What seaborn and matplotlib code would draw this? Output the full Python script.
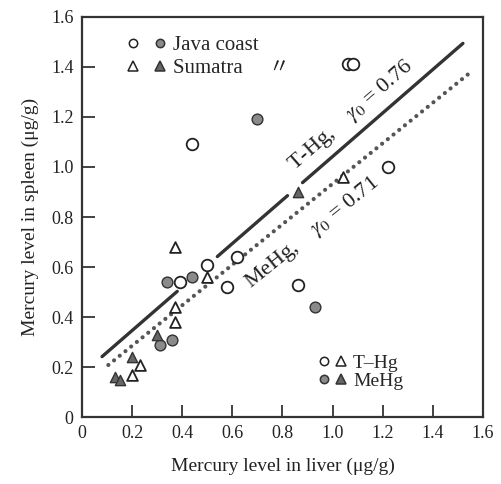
import numpy as np
import pandas as pd
import matplotlib
matplotlib.use("Agg")
import matplotlib.pyplot as plt
from matplotlib.lines import Line2D
from matplotlib.legend_handler import HandlerTuple
import seaborn as sns

# ── data ──
java_thg_liver = [0.44, 1.06, 1.08, 1.22, 0.86, 0.62, 0.50, 0.58, 0.39]
java_thg_spleen = [1.09, 1.41, 1.41, 1.00, 0.53, 0.64, 0.61, 0.52, 0.54]
java_mehg_liver = [0.70, 0.93, 0.44, 0.34, 0.31, 0.36]
java_mehg_spleen = [1.19, 0.44, 0.56, 0.54, 0.29, 0.31]
sum_thg_liver = [0.37, 0.50, 1.04, 0.37, 0.37, 0.23, 0.20]
sum_thg_spleen = [0.68, 0.56, 0.96, 0.44, 0.38, 0.21, 0.17]
sum_mehg_liver = [0.86, 0.30, 0.20, 0.13, 0.15]
sum_mehg_spleen = [0.90, 0.33, 0.24, 0.16, 0.15]

# regression lines (slope, intercept) and drawn x ranges
thg_fit = (0.870, 0.172)
thg_segments = [(0.08, 0.38), (0.54, 0.82), (0.88, 1.52)]
mehg_fit = (0.810, 0.123)
mehg_range = (0.105, 1.55)

ticks = [0, 0.2, 0.4, 0.6, 0.8, 1.0, 1.2, 1.4, 1.6]
tick_labels = ["0", "0.2", "0.4", "0.6", "0.8", "1.0", "1.2", "1.4", "1.6"]

# ──────────────────────────────────────────────
sns.set_theme(style="ticks")
plt.rcParams["font.family"] = ["Liberation Serif", "Noto Sans CJK JP"]
plt.rcParams["mathtext.fontset"] = "stix"

rows = []
for site, form, xs, ys in [
    ("Java coast", "T-Hg", java_thg_liver, java_thg_spleen),
    ("Java coast", "MeHg", java_mehg_liver, java_mehg_spleen),
    ("Sumatra", "T-Hg", sum_thg_liver, sum_thg_spleen),
    ("Sumatra", "MeHg", sum_mehg_liver, sum_mehg_spleen),
]:
    for x, y in zip(xs, ys):
        rows.append({"liver": x, "spleen": y, "site": site, "form": form})
pts = pd.DataFrame(rows)

fig = plt.figure(figsize=(5.01, 4.84), dpi=100)
ax = fig.add_axes([0.1637, 0.1384, 0.8003, 0.8265])

ink = "#222222"

# ── regression lines ──
seg_rows = []
for i, (a, b) in enumerate(thg_segments):
    for x in (a, b):
        seg_rows.append({"x": x, "y": thg_fit[0] * x + thg_fit[1], "seg": i})
seg_df = pd.DataFrame(seg_rows)
sns.lineplot(data=seg_df, x="x", y="y", units="seg", estimator=None,
             color="#333333", lw=2.4, ax=ax, legend=False)

me_df = pd.DataFrame({"x": list(mehg_range),
                      "y": [mehg_fit[0] * x + mehg_fit[1] for x in mehg_range]})
sns.lineplot(data=me_df, x="x", y="y", color="#555555", lw=3.0, ax=ax,
             linestyle=(0, (0.01, 1.75)), dash_capstyle="round", legend=False)

# ── points ──
styles = {
    ("Java coast", "T-Hg"): dict(marker="o", s=70, facecolor="white", edgecolor=ink, linewidth=1.3),
    ("Java coast", "MeHg"): dict(marker="o", s=60, facecolor="#8a8a8a", edgecolor="#333333", linewidth=1.0),
    ("Sumatra", "T-Hg"): dict(marker="^", s=60, facecolor="white", edgecolor=ink, linewidth=1.3),
    ("Sumatra", "MeHg"): dict(marker="^", s=55, facecolor="#666666", edgecolor="#333333", linewidth=1.0),
}
for (site, form), kw in styles.items():
    sub = pts[(pts.site == site) & (pts.form == form)]
    sns.scatterplot(data=sub, x="liver", y="spleen", ax=ax, zorder=3, legend=False, **kw)

# ── line labels ──
for text, x, y, fit in [
    ("T-Hg,    $\\gamma_0$ = 0.76", 1.075, 1.205, thg_fit),
    ("MeHg,    $\\gamma_0$ = 0.71", 0.92, 0.735, mehg_fit),
]:
    ang = np.degrees(np.arctan(fit[0]))
    ax.text(x, y, text, rotation=ang, transform_rotates_text=True,
            rotation_mode="anchor", ha="center", va="center",
            fontsize=16, color=ink)

# ── legends ──
def mk(marker, face, edge, ms):
    return Line2D([], [], ls="", marker=marker, markersize=ms,
                  markerfacecolor=face, markeredgecolor=edge, markeredgewidth=1.1)

o_open = mk("o", "white", ink, 6)
o_fill = mk("o", "#8a8a8a", "#333333", 6)
t_open = mk("^", "white", ink, 6.5)
t_fill = mk("^", "#666666", "#333333", 6.5)

leg1 = ax.legend([(o_open, o_fill), (t_open, t_fill)],
                 ["Java coast", "Sumatra     \u3003"],
                 handler_map={tuple: HandlerTuple(ndivide=None, pad=0.7)},
                 loc="upper left", bbox_to_anchor=(0.065, 1.0), frameon=False,
                 fontsize=15, handlelength=1.9, handletextpad=0.3, labelspacing=0.15)
ax.add_artist(leg1)
ax.legend([(o_open, t_open), (o_fill, t_fill)], ["T\u2013Hg", "MeHg"],
          handler_map={tuple: HandlerTuple(ndivide=None, pad=0.3)},
          loc="lower left", bbox_to_anchor=(0.545, 0.025), frameon=False,
          fontsize=14, handlelength=1.5, handletextpad=0.3, labelspacing=0.0)

# ── axes ──
ax.set_xlim(0, 1.6)
ax.set_ylim(0, 1.6)
ax.set_xticks(ticks, tick_labels)
ax.set_yticks(ticks, tick_labels)
ax.tick_params(direction="in", length=9, width=1.2, labelsize=13, colors=ink,
               top=False, right=False, pad=6)
for sp in ax.spines.values():
    sp.set_visible(True)
    sp.set_linewidth(1.6)
    sp.set_color("#333333")
ax.set_xlabel("Mercury level in liver (\u03bcg/g)", fontsize=14, color=ink, labelpad=11)
ax.set_ylabel("Mercury level in spleen (\u03bcg/g)", fontsize=14, color=ink, labelpad=9)

fig.savefig("out.png", dpi=100)
